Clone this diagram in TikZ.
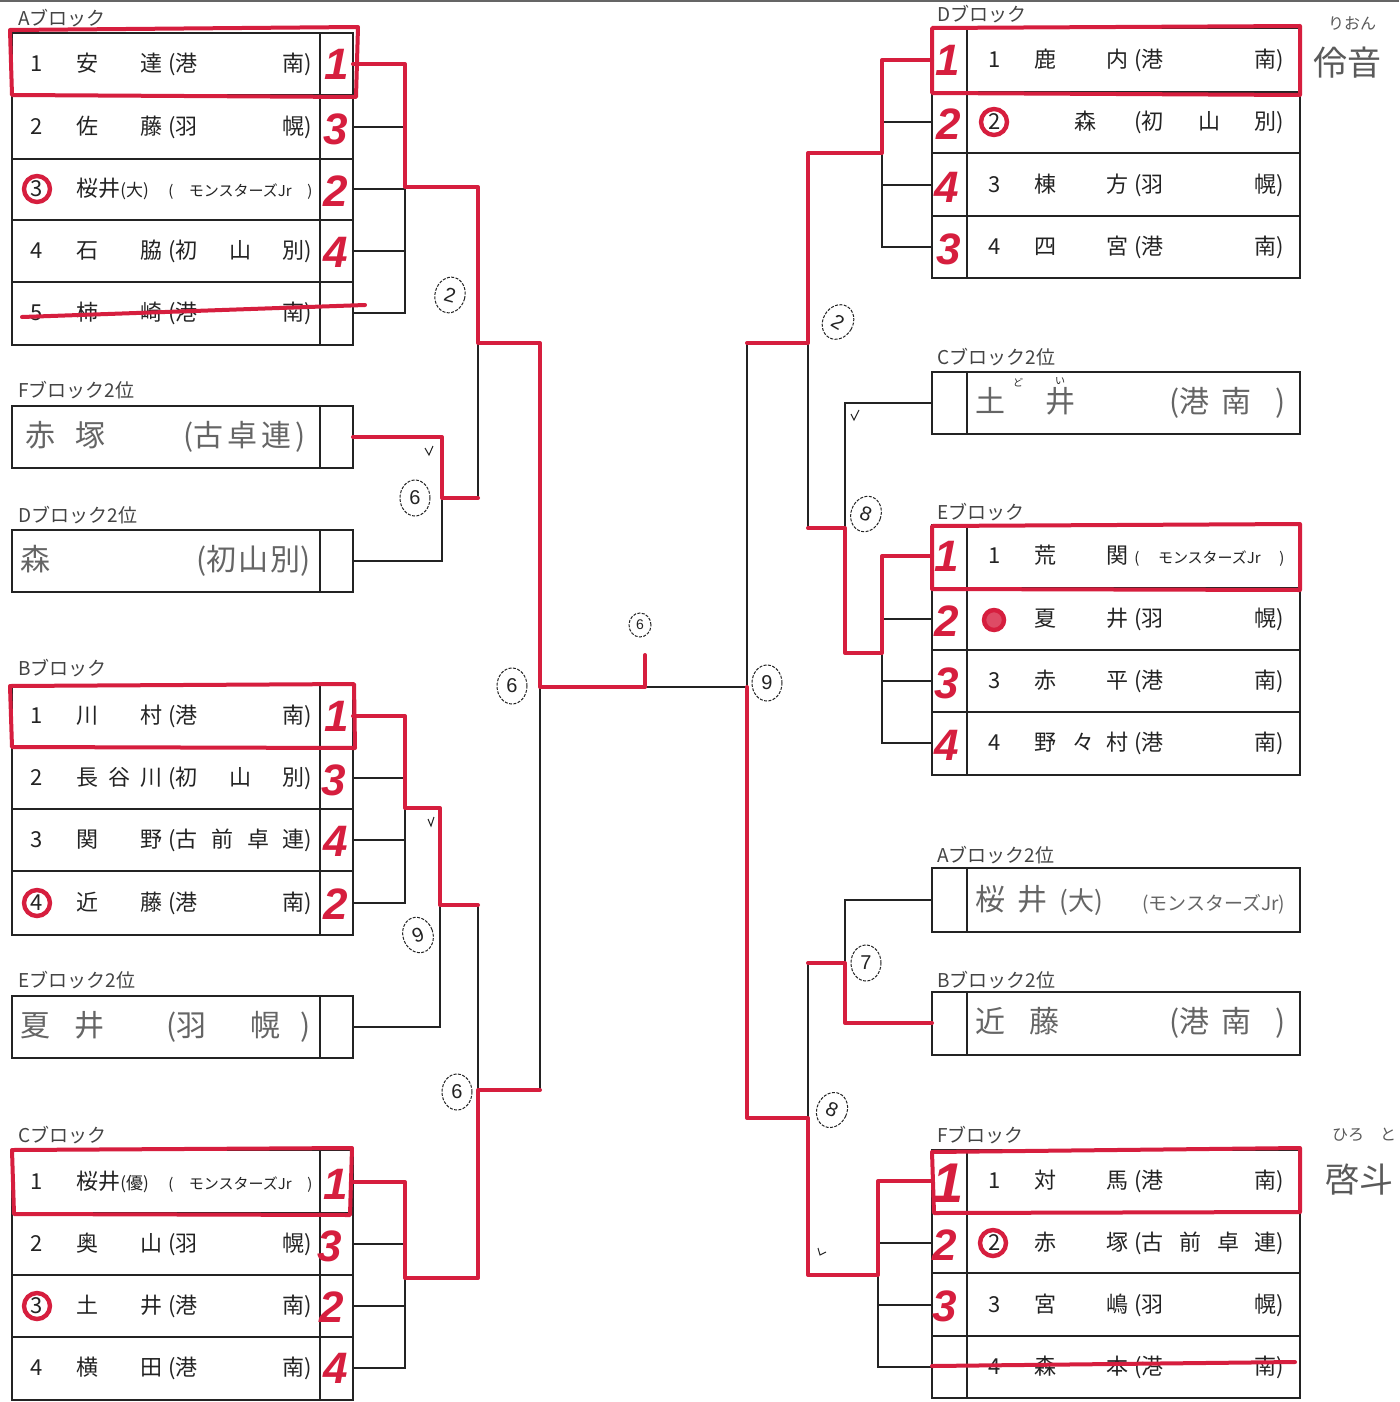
\documentclass[tikz,border=0pt]{standalone}
\usepackage{fontspec}
\setmainfont{Noto Sans CJK JP}
\newfontfamily\hnd{Liberation Sans}
\usetikzlibrary{shapes.geometric}
\definecolor{pen}{RGB}{214,30,62}
\definecolor{ink}{RGB}{35,35,35}
\newcommand\lrow[4]{\makebox[23pt][l]{#1}\makebox[32pt][l]{#2}\makebox[14pt][l]{#3}\makebox[72pt]{#4}}
\newcommand\rrow[4]{\makebox[23pt][l]{#1}\makebox[36pt][l]{#2}\makebox[14pt][l]{#3}\makebox[75pt]{#4}}
\newcommand\kana[1]{{\fontsize{7.5}{7.5}\selectfont(\hfill #1\hfill)}}
\tikzset{
 tb/.style={line width=0.9pt, draw=ink},
 ln/.style={line width=0.8pt, draw=ink},
 rd/.style={line width=2pt, draw=pen, line join=round, line cap=round},
 pr/.style={font=\fontsize{11}{11}\selectfont, text=ink, inner sep=0pt, anchor=west},
 lbl/.style={font=\fontsize{9.5}{9.5}\selectfont, text=ink!85, anchor=west, inner sep=0pt},
 hw/.style={font=\fontsize{15}{15}\selectfont, text=ink!70, inner sep=0pt, anchor=west},
 mk/.style={font=\hnd\bfseries\itshape\fontsize{22}{22}\selectfont, text=pen, inner sep=0pt},
 cl/.style={ellipse, draw=ink, line width=0.5pt, dash pattern=on 1.5pt off 0.7pt, minimum width=15pt, minimum height=18pt, inner sep=0pt, font=\hnd\fontsize{10}{10}\selectfont, text=ink},
 rc/.style={draw=pen, line width=2.2pt},
}
\begin{document}
\begin{tikzpicture}[x=0.5pt,y=-0.5pt]
\useasboundingbox (0,0) rectangle (1399,1402);
\fill[white] (0,0) rectangle (1399,1402);
\clip (0,0) rectangle (1399,1402);
\draw[line width=1.5pt, ink!70] (0,1) -- (1399,1);

% ---------- tables (left) ----------
\draw[tb] (12,33) rectangle (353,345); \draw[tb] (320,33) -- (320,345);
\foreach \y in {95,159,220,282} \draw[tb] (12,\y) -- (353,\y);
\draw[tb] (12,406) rectangle (353,468); \draw[tb] (320,406) -- (320,468);
\draw[tb] (12,530) rectangle (353,592); \draw[tb] (320,530) -- (320,592);
\draw[tb] (12,685) rectangle (353,935); \draw[tb] (320,685) -- (320,935);
\foreach \y in {747,809,871} \draw[tb] (12,\y) -- (353,\y);
\draw[tb] (12,996) rectangle (353,1058); \draw[tb] (320,996) -- (320,1058);
\draw[tb] (12,1150) rectangle (353,1400); \draw[tb] (320,1150) -- (320,1400);
\foreach \y in {1213,1275,1337} \draw[tb] (12,\y) -- (353,\y);
% ---------- tables (right) ----------
\draw[tb] (932,28) rectangle (1300,278); \draw[tb] (967,28) -- (967,278);
\foreach \y in {92,153,216} \draw[tb] (932,\y) -- (1300,\y);
\draw[tb] (932,372) rectangle (1300,434); \draw[tb] (967,372) -- (967,434);
\draw[tb] (932,525) rectangle (1300,775); \draw[tb] (967,525) -- (967,775);
\foreach \y in {588,650,712} \draw[tb] (932,\y) -- (1300,\y);
\draw[tb] (932,868) rectangle (1300,932); \draw[tb] (967,868) -- (967,932);
\draw[tb] (932,992) rectangle (1300,1055); \draw[tb] (967,992) -- (967,1055);
\draw[tb] (932,1150) rectangle (1300,1398); \draw[tb] (967,1150) -- (967,1398);
\foreach \y in {1212,1273,1336} \draw[tb] (932,\y) -- (1300,\y);

% ---------- block labels ----------
\node[lbl] (lA) at (18,18) {Aブロック};
\node[lbl] (lF2) at (18,390) {Fブロック2位};
\node[lbl] (lD2) at (18,515) {Dブロック2位};
\node[lbl] (lB) at (18,668) {Bブロック};
\node[lbl] (lE2) at (18,980) {Eブロック2位};
\node[lbl] (lC) at (18,1135) {Cブロック};
\node[lbl] (rlD) at (937,14) {Dブロック};
\node[lbl] (rlC2) at (937,357) {Cブロック2位};
\node[lbl] (rlE) at (937,512) {Eブロック};
\node[lbl] (rlA2) at (937,855) {Aブロック2位};
\node[lbl] (rlB2) at (937,980) {Bブロック2位};
\node[lbl] (rlF) at (937,1135) {Fブロック};

% ---------- printed rows (left) ----------
\node[pr] (tA1) at (30,64) {\lrow{1}{安}{達}{(港\hfill 南)}};
\node[pr] (tA2) at (30,127) {\lrow{2}{佐}{藤}{(羽\hfill 幌)}};
\node[pr] (tA3) at (30,189) {\lrow{3}{桜井{\fontsize{8.5}{8.5}\selectfont(大)}}{}{\kana{モンスターズJr}}};
\node[pr] (tA4) at (30,251) {\lrow{4}{石}{脇}{(初\hfill 山\hfill 別)}};
\node[pr] (tA5) at (30,313) {\lrow{5}{柿}{崎}{(港\hfill 南)}};
\node[pr] (tB1) at (30,716) {\lrow{1}{川}{村}{(港\hfill 南)}};
\node[pr] (tB2) at (30,778) {\lrow{2}{長\hspace{5pt}谷}{川}{(初\hfill 山\hfill 別)}};
\node[pr] (tB3) at (30,840) {\lrow{3}{関}{野}{(古\hfill 前\hfill 卓\hfill 連)}};
\node[pr] (tB4) at (30,903) {\lrow{4}{近}{藤}{(港\hfill 南)}};
\node[pr] (tC1) at (30,1182) {\lrow{1}{桜井{\fontsize{8.5}{8.5}\selectfont(優)}}{}{\kana{モンスターズJr}}};
\node[pr] (tC2) at (30,1244) {\lrow{2}{奥}{山}{(羽\hfill 幌)}};
\node[pr] (tC3) at (30,1306) {\lrow{3}{土}{井}{(港\hfill 南)}};
\node[pr] (tC4) at (30,1368) {\lrow{4}{横}{田}{(港\hfill 南)}};
% ---------- printed rows (right) ----------
\node[pr] (tD1) at (988,60) {\rrow{1}{鹿}{内}{(港\hfill 南)}};
\node[pr] (tD2) at (988,122) {\rrow{2}{\hspace{20pt}森}{}{(初\hfill 山\hfill 別)}};
\node[pr] (tD3) at (988,185) {\rrow{3}{棟}{方}{(羽\hfill 幌)}};
\node[pr] (tD4) at (988,247) {\rrow{4}{四}{宮}{(港\hfill 南)}};
\node[pr] (tE1) at (988,556) {\rrow{1}{荒}{関}{\kana{モンスターズJr}}};
\node[pr] (tE2) at (988,619) {\rrow{2}{夏}{井}{(羽\hfill 幌)}};
\node[pr] (tE3) at (988,681) {\rrow{3}{赤}{平}{(港\hfill 南)}};
\node[pr] (tE4) at (988,743) {\rrow{4}{野\hspace{8pt}々}{村}{(港\hfill 南)}};
\node[pr] (tF1) at (988,1181) {\rrow{1}{対}{馬}{(港\hfill 南)}};
\node[pr] (tF2) at (988,1243) {\rrow{2}{赤}{塚}{(古\hfill 前\hfill 卓\hfill 連)}};
\node[pr] (tF3) at (988,1305) {\rrow{3}{宮}{嶋}{(羽\hfill 幌)}};
\node[pr] (tF4) at (988,1367) {\rrow{4}{森}{本}{(港\hfill 南)}};

% ---------- handwritten qualifiers ----------
\node[hw] (hF2) at (25,437) {\makebox[140pt][l]{赤\hspace{10pt}塚\hfill(古\hspace{2pt}卓\hspace{2pt}連\hspace{2pt})}};
\node[hw] (hD2) at (20,561) {\makebox[145pt][l]{森\hfill(初\hspace{1pt}山\hspace{1pt}別)}};
\node[hw] (hE2) at (20,1027) {\makebox[145pt][l]{夏\hspace{12pt}井\hfill(羽\hspace{22pt}幌\hspace{10pt})}};
\node[hw] (hC2) at (975,403) {\makebox[155pt][l]{土\hspace{20pt}井\hfill(港\hspace{6pt}南\hspace{12pt})}};
\node[hw] (hA2) at (975,900) {\makebox[155pt][l]{桜\hspace{6pt}井\hspace{6pt}{\fontsize{13}{13}\selectfont(大)}\hfill{\fontsize{9.5}{9.5}\selectfont(モンスターズJr)}}};
\node[hw] (hB2) at (975,1023) {\makebox[155pt][l]{近\hspace{12pt}藤\hfill(港\hspace{6pt}南\hspace{12pt})}};
\node[font=\fontsize{5}{5}\selectfont, text=ink] (fu1) at (1018,383) {ど};
\node[font=\fontsize{5}{5}\selectfont, text=ink] (fu2) at (1060,381) {い};
% margin notes
\node[font=\fontsize{8}{8}\selectfont, text=ink!75] (nr1) at (1352,24) {りおん};
\node[font=\fontsize{17}{17}\selectfont, text=ink!75] (nr2) at (1347,63) {伶音};
\node[font=\fontsize{8}{8}\selectfont, text=ink!75, anchor=west] (nh1) at (1325,1135) {ひろ\hspace{8pt}と};
\node[font=\fontsize{17}{17}\selectfont, text=ink!75, anchor=west] (nh2) at (1318,1180) {啓斗};

% ---------- connectors: coordinates ----------
\coordinate (A1) at (353,64); \coordinate (A2) at (353,127); \coordinate (A3) at (353,189);
\coordinate (A4) at (353,251); \coordinate (A5) at (353,313);
\coordinate (F2) at (353,437); \coordinate (D2) at (353,561);
\coordinate (B1) at (353,716); \coordinate (B2) at (353,778); \coordinate (B3) at (353,840); \coordinate (B4) at (353,903);
\coordinate (E2) at (353,1027);
\coordinate (C1) at (353,1182); \coordinate (C2) at (353,1244); \coordinate (C3) at (353,1306); \coordinate (C4) at (353,1368);
\coordinate (rD1) at (932,60); \coordinate (rD2) at (932,122); \coordinate (rD3) at (932,185); \coordinate (rD4) at (932,247);
\coordinate (rC2) at (932,403);
\coordinate (rE1) at (932,556); \coordinate (rE2) at (932,619); \coordinate (rE3) at (932,681); \coordinate (rE4) at (932,743);
\coordinate (rA2) at (932,900); \coordinate (rB2) at (932,1023);
\coordinate (rF1) at (932,1181); \coordinate (rF2) at (932,1243); \coordinate (rF3) at (932,1305); \coordinate (rF4) at (932,1367);
\coordinate (jA) at (405,187); \coordinate (j6) at (442,498); \coordinate (j12) at (478,343);
\coordinate (jB) at (405,808); \coordinate (j9) at (440,905); \coordinate (jC) at (405,1278);
\coordinate (j6b) at (478,1090); \coordinate (jL) at (540,687); \coordinate (jR) at (747,687);
\coordinate (tkb) at (645,687); \coordinate (tk) at (645,655);
\coordinate (jD) at (882,153); \coordinate (jE) at (882,653); \coordinate (j8) at (845,528);
\coordinate (j2r) at (808,343); \coordinate (j7) at (845,963); \coordinate (jF) at (878,1275);
\coordinate (j8b) at (808,1118);

% black bracket
\draw[ln] (A1) -| (jA) (A2) -| (jA) (A3) -| (jA) (A4) -| (jA) (A5) -| (jA);
\draw[ln] (F2) -| (j6) (D2) -| (j6);
\draw[ln] (jA) -| (j12) (j6) -| (j12) (j12) -| (jL);
\draw[ln] (B1) -| (jB) (B2) -| (jB) (B3) -| (jB) (B4) -| (jB);
\draw[ln] (jB) -| (j9) (E2) -| (j9) (j9) -| (j6b);
\draw[ln] (C1) -| (jC) (C2) -| (jC) (C3) -| (jC) (C4) -| (jC);
\draw[ln] (jC) -| (j6b) (j6b) -| (jL) (jL) -- (jR);
\draw[ln] (rD1) -| (jD) (rD2) -| (jD) (rD3) -| (jD) (rD4) -| (jD);
\draw[ln] (jD) -| (j2r) (rC2) -| (j8);
\draw[ln] (rE1) -| (jE) (rE2) -| (jE) (rE3) -| (jE) (rE4) -| (jE);
\draw[ln] (jE) -| (j8) (j8) -| (j2r) (j2r) -| (jR);
\draw[ln] (rA2) -| (j7) (rB2) -| (j7) (j7) -| (j8b);
\draw[ln] (rF1) -| (jF) (rF2) -| (jF) (rF3) -| (jF) (rF4) -| (jF);
\draw[ln] (jF) -| (j8b) (j8b) -| (jR);

% red winner paths
\draw[rd] (A1) -| (jA) -| (j12) -| (jL) -- (tkb) -- (tk);
\draw[rd] (F2) -| (j6) -- (j6 -| j12);
\draw[rd] (B1) -| (jB) -| (j9) -- (j9 -| j6b);
\draw[rd] (C1) -| (jC) -| (j6b) -- (j6b -| jL);
\draw[rd] (rD1) -| (jD) -| (j2r) -- (j2r -| jR);
\draw[rd] (rE1) -| (jE) -| (j8) -- (j8 -| j2r);
\draw[rd] (rB2) -| (j7) -- (j7 -| j8b);
\draw[rd] (rF1) -| (jF) -| (j8b) -| (jR);

% red outlines of winners
\draw[rd] (10,30) -- (358,27) -- (356,97) -- (12,95) -- cycle;
\draw[rd] (10,686) -- (354,684) -- (355,748) -- (12,747) -- cycle;
\draw[rd] (12,1150) -- (352,1148) -- (350,1215) -- (14,1214) -- cycle;
\draw[rd] (932,28) -- (1300,26) -- (1300,95) -- (932,93) -- cycle;
\draw[rd] (932,526) -- (1300,524) -- (1300,590) -- (932,589) -- cycle;
\draw[rd] (932,1152) -- (1300,1148) -- (1300,1212) -- (934,1213) -- cycle;
% strike-throughs
\draw[rd] (22,317) -- (365,305);
\draw[rd] (932,1366) -- (1295,1362);
% red circles on numbers
\draw[rc] (37,189) circle[radius=6.5pt];
\draw[rc] (37,903) circle[radius=6.5pt];
\draw[rc] (37,1306) circle[radius=6.5pt];
\draw[rc] (994,122) circle[radius=6.5pt];
\draw[rc, fill=pen!80] (994,620) circle[radius=5pt];
\draw[rc] (993,1243) circle[radius=6.5pt];

% red placing marks
\node[mk] (mA1) at (337,64) {1}; \node[mk] (mA2) at (336,129) {3};
\node[mk] (mA3) at (336,191) {2}; \node[mk] (mA4) at (336,252) {4};
\node[mk] (mB1) at (337,716) {1}; \node[mk] (mB2) at (334,780) {3};
\node[mk] (mB3) at (336,841) {4}; \node[mk] (mB4) at (336,904) {2};
\node[mk] (mC1) at (336,1184) {1}; \node[mk] (mC2) at (330,1246) {3};
\node[mk] (mC3) at (332,1307) {2}; \node[mk] (mC4) at (336,1368) {4};
\node[mk] (mD1) at (948,60) {1}; \node[mk] (mD2) at (949,124) {2};
\node[mk] (mD3) at (947,187) {4}; \node[mk] (mD4) at (949,249) {3};
\node[mk] (mE1) at (947,556) {1}; \node[mk] (mE2) at (947,621) {2};
\node[mk] (mE3) at (947,683) {3}; \node[mk] (mE4) at (947,745) {4};
\node[mk, font=\hnd\bfseries\itshape\fontsize{28}{28}\selectfont] (mF1) at (948,1183) {1};
\node[mk] (mF2) at (945,1245) {2}; \node[mk] (mF3) at (945,1306) {3};

% circled round notes
\node[cl, rotate=-15] (n1) at (450,295) {2};
\node[cl] (n2) at (415,498) {6};
\node[cl, rotate=20] (n3) at (418,935) {9};
\node[cl] (n4) at (457,1092) {6};
\node[cl] (n5) at (512,686) {6};
\node[cl, minimum width=11pt, minimum height=12pt, font=\hnd\fontsize{7}{7}\selectfont] (n6) at (640,625) {6};
\node[cl] (n7) at (767,683) {9};
\node[cl, rotate=-30] (n8) at (838,322) {2};
\node[cl, rotate=-20] (n9) at (866,514) {8};
\node[cl] (n10) at (866,963) {7};
\node[cl, rotate=-25] (n11) at (832,1110) {8};

% tick marks
\draw[ink, line width=0.5pt] (425,448) -- (429,455) -- (433,446);
\draw[ink, line width=0.5pt] (428,819) -- (431,826) -- (434,817);
\draw[ink, line width=0.5pt] (851,414) -- (854,420) -- (859,410);
\draw[ink, line width=0.5pt] (818,1248) -- (820,1255) -- (826,1252);
\end{tikzpicture}
\end{document}
